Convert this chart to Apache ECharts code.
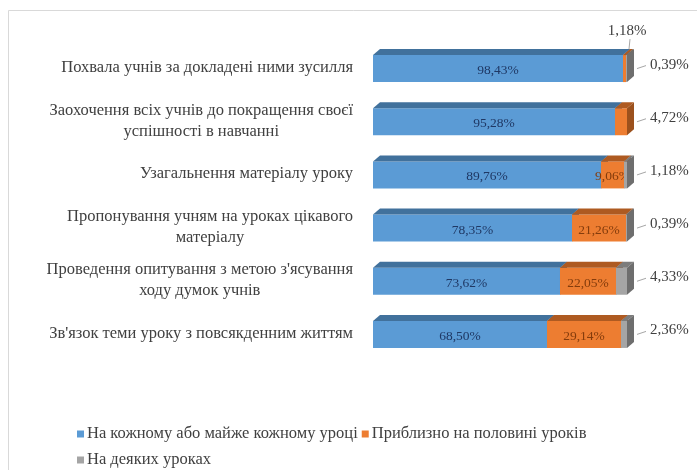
<!DOCTYPE html>
<html>
<head>
<meta charset="utf-8">
<script src="https://cdn.jsdelivr.net/npm/echarts@6/dist/echarts.min.js"></script>
<style>
  html, body { margin: 0; padding: 0; background: #fff; }
  #chart { width: 697px; height: 470px; }
</style>
</head>
<body>
<div id="chart"></div>
<script>
const categories = [
  "Похвала учнів за докладені ними зусилля",
  "Заохочення всіх учнів до покращення своєї\nуспішності в навчанні",
  "Узагальнення матеріалу уроку",
  "Пропонування учням на уроках цікавого\nматеріалу",
  "Проведення опитування з метою з'ясування\nходу думок учнів",
  "Зв'язок теми уроку з повсякденним життям"
];
const seriesNames = [
  "На кожному або майже кожному уроці",
  "Приблизно на половині уроків",
  "На деяких уроках"
];
const everyLesson = [98.43, 95.28, 89.76, 78.35, 73.62, 68.50];
const halfLessons = [1.18, 4.72, 9.06, 21.26, 22.05, 29.14];
const someLessons = [0.39, 0, 1.18, 0.39, 4.33, 2.36];

const serif = '"Liberation Serif", "Times New Roman", serif';
const frontColors = ["#5b9bd5", "#ed7d31", "#a5a5a5"];
const topColors = ["#41719c", "#ae5a21", "#7c7c7c"];
const sideColors = ["#3a6690", "#9c511d", "#6e6e6e"];
const labelColors = ["#1f3864", "#843c0c", "#404040"];

const stacks = [everyLesson, halfLessons, someLessons];

const fmt = v => v.toFixed(2).replace(".", ",") + "%";

function makeData(k) {
  return stacks[k].map((v, i) => {
    let start = 0;
    for (let j = 0; j < k; j++) start += stacks[j][i];
    return [start, i, v];
  });
}

function makeRender(k) {
  return function (params, api) {
    const start = api.value(0), idx = api.value(1), v = api.value(2);
    if (!v) return null;
    const p0 = api.coord([start, idx]);
    const p1 = api.coord([start + v, idx]);
    const h = 27, dx = 7, dy = 6;
    const x0 = p0[0], x1 = p1[0];
    const yTop = p0[1] - h / 2 + 1, yBot = yTop + h;
    const children = [
      { type: "rect", shape: { x: x0, y: yTop, width: x1 - x0, height: h },
        style: { fill: frontColors[k] } },
      { type: "polygon", shape: { points: [[x0, yTop], [x1, yTop], [x1 + dx, yTop - dy], [x0 + dx, yTop - dy]] },
        style: { fill: topColors[k] } },
      { type: "polygon", shape: { points: [[x1, yTop], [x1 + dx, yTop - dy], [x1 + dx, yBot - dy], [x1, yBot]] },
        style: { fill: sideColors[k] } }
    ];
    const yMid = (yTop + yBot) / 2;
    if (v >= 6) {
      children.push({ type: "text", x: (x0 + x1) / 2, y: yMid + 2,
        style: { text: fmt(v), fontFamily: serif, fontSize: 13.5, fill: labelColors[k],
          align: "center", verticalAlign: "middle" } });
    } else {
      const outer = { text: fmt(v), fontFamily: serif, fontSize: 15, fill: "#404040", verticalAlign: "middle" };
      const nextVal = k < 2 ? stacks[k + 1][idx] : 0;
      if (k === 1 && nextVal > 0) {
        // label above the bar end
        children.push({ type: "line", shape: { x1: x1 + 3, y1: yTop - dy, x2: x1 + 4, y2: yTop - dy - 10 },
          style: { stroke: "#a6a6a6", lineWidth: 1 } });
        children.push({ type: "text", x: x1 + 1, y: yTop - dy - 18,
          style: Object.assign({ align: "center" }, outer) });
      } else {
        children.push({ type: "line", shape: { x1: x1 + dx + 3, y1: yMid, x2: x1 + dx + 12, y2: yMid - 3 },
          style: { stroke: "#a6a6a6", lineWidth: 1 } });
        children.push({ type: "text", x: x1 + dx + 16, y: yMid - 4,
          style: Object.assign({ align: "left" }, outer) });
      }
    }
    return { type: "group", children: children };
  };
}

const myChart = echarts.init(document.getElementById("chart"));
myChart.setOption({
  backgroundColor: "#fff",
  animation: false,
  graphic: [{
    type: "rect", left: 8, top: 10, z: -1,
    shape: { width: 700, height: 470 },
    style: { fill: "#fff", stroke: "#d9d9d9", lineWidth: 1 }
  }],
  grid: { left: 373, right: 70, top: 41, bottom: 110 },
  xAxis: { type: "value", min: 0, max: 100, show: false },
  yAxis: {
    type: "category",
    data: categories,
    inverse: true,
    axisLine: { show: false },
    axisTick: { show: false },
    splitLine: { show: false },
    axisLabel: {
      margin: 20,
      formatter: v => v.split("\n").map(l => "{c|" + l + "}").join("\n"),
      rich: {
        c: { align: "center", fontFamily: serif, fontSize: 16.5, color: "#404040", lineHeight: 21 }
      }
    }
  },
  legend: {
    left: 72, top: 418, width: 570,
    icon: "rect", itemWidth: 7, itemHeight: 7, itemGap: 4,
    textStyle: { fontFamily: serif, fontSize: 16.5, color: "#404040", lineHeight: 22, padding: [0, 0, 0, -2] },
    data: seriesNames
  },
  series: [0, 1, 2].map(k => ({
    name: seriesNames[k],
    type: "custom",
    coordinateSystem: "cartesian2d",
    itemStyle: { color: frontColors[k] },
    encode: { x: 0, y: 1 },
    data: makeData(k),
    renderItem: makeRender(k)
  }))
});
</script>
</body>
</html>
